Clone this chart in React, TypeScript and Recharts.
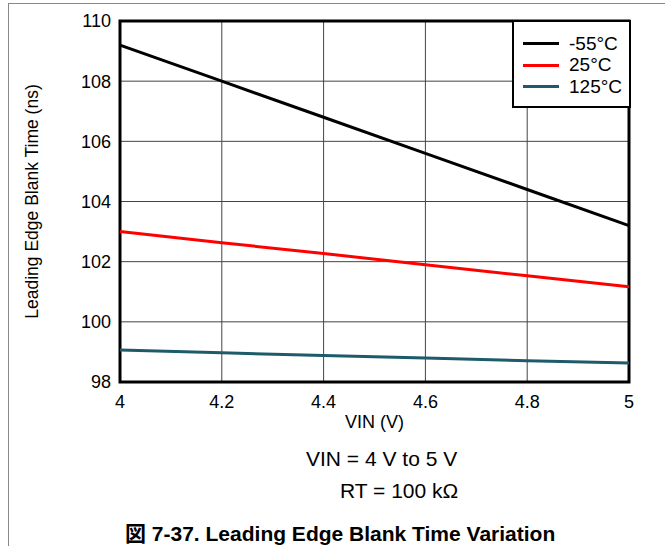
import React from 'react';
import {
  LineChart, Line, XAxis, YAxis, CartesianGrid, ReferenceArea,
} from 'recharts';

const vin = [4, 4.2, 4.4, 4.6, 4.8, 5];
const tMinus55 = [109.2, 108.0, 106.8, 105.6, 104.4, 103.2];
const t25 = [103.0, 102.63, 102.27, 101.9, 101.53, 101.17];
const t125 = [99.06, 98.97, 98.88, 98.8, 98.71, 98.63];

const xTicks = [4, 4.2, 4.4, 4.6, 4.8, 5];
const yTicks = [98, 100, 102, 104, 106, 108, 110];

const SERIES = [
  { key: 'm55', name: '-55°C', color: '#000000' },
  { key: 'p25', name: '25°C', color: '#ff0000' },
  { key: 'p125', name: '125°C', color: '#1d5a6a' },
];

const FONT = '"Liberation Sans", Arial, sans-serif';

const data = vin.map((v, i) => ({ vin: v, m55: tMinus55[i], p25: t25[i], p125: t125[i] }));

function LegendBox() {
  return (
    <div
      style={{
        position: 'absolute', left: 512, top: 20, width: 119, height: 88,
        border: '2.5px solid #000', background: '#fff',
        fontFamily: FONT, fontSize: 19, paddingTop: 11, boxSizing: 'border-box',
      }}
    >
      {SERIES.map((s) => (
        <div key={s.key} style={{ display: 'flex', alignItems: 'center', height: 21.5, whiteSpace: 'nowrap' }}>
          <div style={{ width: 36, height: 3, background: s.color, marginLeft: 9, marginRight: 10 }} />
          <span>{s.name}</span>
        </div>
      ))}
    </div>
  );
}

export default function App() {
  return (
    <div style={{ position: 'absolute', left: 0, top: 0, width: 665, height: 546, background: '#fff', fontFamily: FONT }}>
      <div style={{ position: 'absolute', left: 8, top: 3, width: 657, height: 543, borderLeft: '1px solid #888', borderTop: '1px solid #888' }} />
      <LineChart
        width={665}
        height={546}
        data={data}
        margin={{ top: 21, right: 36, bottom: 124, left: 0 }}
      >
        <CartesianGrid stroke="#444" strokeWidth={1} />
        <XAxis
          dataKey="vin"
          type="number"
          domain={[4, 5]}
          ticks={xTicks}
          tickLine={false}
          axisLine={false}
          height={40}
          tick={{ fill: '#000', fontSize: 18, fontFamily: FONT }}
          tickFormatter={(v) => String(v)}
          tickMargin={7}
          label={{ value: 'VIN (V)', position: 'insideBottom', offset: -6, fill: '#000', fontSize: 18, fontFamily: FONT }}
        />
        <YAxis
          type="number"
          domain={[98, 110]}
          ticks={yTicks}
          tickLine={false}
          axisLine={false}
          width={120}
          tick={{ fill: '#000', fontSize: 18, fontFamily: FONT }}
          tickMargin={3}
          label={{ value: 'Leading Edge Blank Time (ns)', angle: -90, position: 'insideLeft', offset: 32, fill: '#000', fontSize: 17.5, fontFamily: FONT, style: { textAnchor: 'middle' } }}
        />
        {SERIES.map((s) => (
          <Line
            key={s.key}
            dataKey={s.key}
            name={s.name}
            stroke={s.color}
            strokeWidth={3}
            dot={false}
            type="linear"
            isAnimationActive={false}
          />
        ))}
        <ReferenceArea x1={4} x2={5} y1={98} y2={110} fill="none" stroke="#000" strokeWidth={3} ifOverflow="visible" />
      </LineChart>
      <LegendBox />
      <div style={{ position: 'absolute', left: 306, top: 447, fontSize: 21, whiteSpace: 'nowrap' }}>
        VIN = 4 V to 5 V
      </div>
      <div style={{ position: 'absolute', left: 340, top: 479, fontSize: 21, whiteSpace: 'nowrap' }}>
        RT = 100 kΩ
      </div>
      <div style={{ position: 'absolute', left: 125, top: 517, fontSize: 21, fontWeight: 'bold', whiteSpace: 'nowrap', fontFamily: FONT + ', "Noto Sans CJK JP"' }}>
        図 7-37. Leading Edge Blank Time Variation
      </div>
    </div>
  );
}
